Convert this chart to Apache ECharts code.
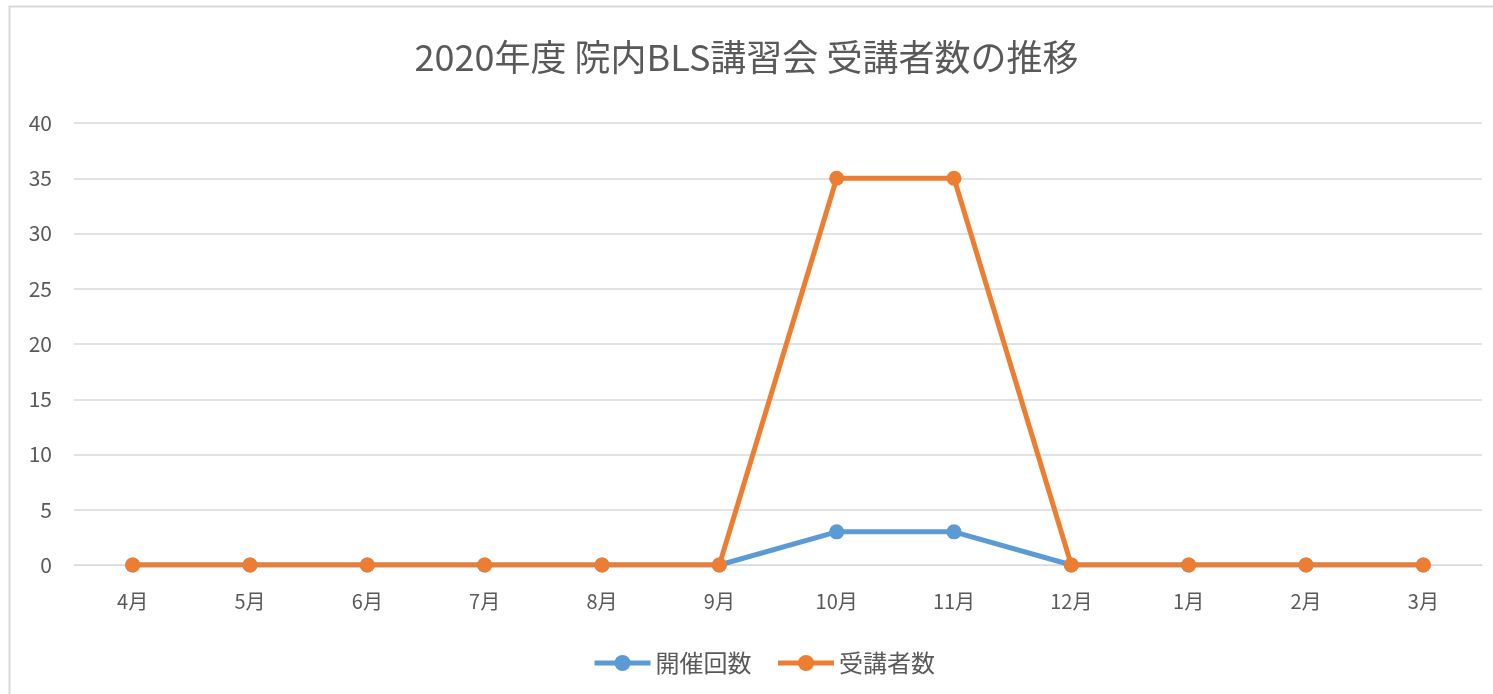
<!DOCTYPE html>
<html><head><meta charset="utf-8">
<script src="https://cdn.jsdelivr.net/npm/echarts@6/dist/echarts.min.js"></script>
<style>html,body{margin:0;padding:0;background:#fff}#c{width:1493px;height:694px}</style>
</head><body><div id="c"></div>
<script>
const titleText = '2020年度 院内BLS講習会 受講者数の推移';
const categories = ['4月','5月','6月','7月','8月','9月','10月','11月','12月','1月','2月','3月'];
const sessions = [0,0,0,0,0,0,3,3,0,0,0,0];
const attendees = [0,0,0,0,0,0,35,35,0,0,0,0];
const seriesNames = ['開催回数','受講者数'];
const yTicks = {min:0, max:40, interval:5};

const font = '"Noto Sans CJK JP", "Noto Sans", sans-serif';
const chart = echarts.init(document.getElementById('c'));
chart.setOption({
  animation:false,
  textStyle:{fontFamily:font},
  graphic:[{type:'rect',shape:{x:9.5,y:6.5,width:1500,height:720},style:{fill:'none',stroke:'#d9d9d9',lineWidth:2},silent:true}],
  title:{text:titleText,left:'center',top:34,textStyle:{fontFamily:font,fontSize:36,fontWeight:'normal',color:'#595959'}},
  legend:{bottom:14,left:587,itemWidth:56,itemHeight:20,itemGap:24,
    lineStyle:{width:5},
    textStyle:{fontFamily:font,fontSize:24,color:'#595959'},data:seriesNames},
  grid:{left:74,right:11,top:123,bottom:129,containLabel:false},
  xAxis:{type:'category',data:categories,boundaryGap:true,
    axisLine:{show:true,lineStyle:{color:'#d9d9d9',width:1}},axisTick:{show:false},
    axisLabel:{color:'#595959',fontSize:20,margin:26,fontFamily:font}},
  yAxis:{type:'value',min:yTicks.min,max:yTicks.max,interval:yTicks.interval,
    axisLine:{show:false},axisTick:{show:false},
    splitLine:{lineStyle:{color:'#d9d9d9',width:1.5}},
    axisLabel:{color:'#595959',fontSize:21,margin:22,fontFamily:font}},
  series:[
    {name:seriesNames[0],type:'line',data:sessions,symbol:'circle',symbolSize:15,
     lineStyle:{color:'#5b9bd5',width:5},itemStyle:{color:'#5b9bd5'}},
    {name:seriesNames[1],type:'line',data:attendees,symbol:'circle',symbolSize:15,
     lineStyle:{color:'#ed7d31',width:5},itemStyle:{color:'#ed7d31'}}
  ]
});
</script></body></html>
